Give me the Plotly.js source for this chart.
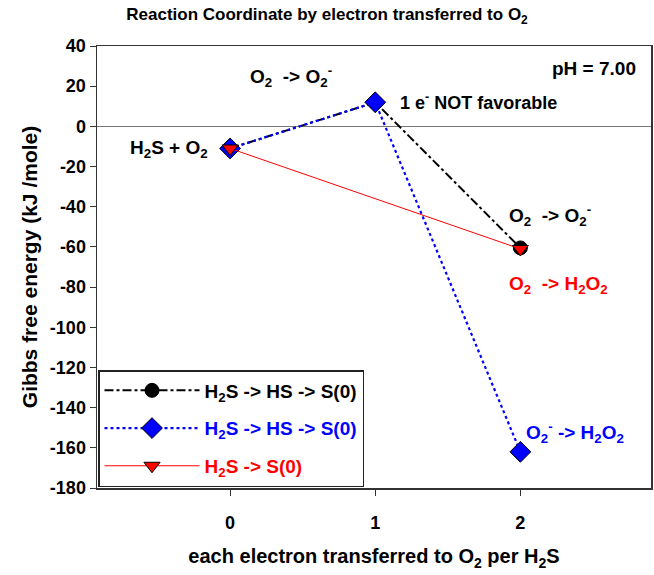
<!DOCTYPE html>
<html>
<head>
<meta charset="utf-8">
<script src="https://cdn.plot.ly/plotly-3.0.1.min.js"></script>
<style>html,body{margin:0;padding:0;background:#fff;}#chart{width:654px;height:575px;}</style>
</head>
<body>
<div id="chart"></div>
<script>
// Data
const steps = [0, 1, 2];
const blackVals = [-11, 12, -60.5];
const blueVals = [-11, 12, -162];
const redSteps = [0, 2];
const redVals = [-11, -61];
const seriesNames = [
  "<b>H<sub>2</sub>S -> HS -> S(0)</b>",
  "<b>H<sub>2</sub>S -> HS -> S(0)</b>",
  "<b>H<sub>2</sub>S -> S(0)</b>"
];
const xTicks = [0, 1, 2];
const yTicks = [-180, -160, -140, -120, -100, -80, -60, -40, -20, 0, 20, 40];

const FONT = "Liberation Sans, Arial, sans-serif";

const traces = [
  {
    x: steps, y: blackVals, name: seriesNames[0], mode: "lines+markers", legendgroup: "a",
    line: {color: "black", dash: "dashdot", width: 2},
    marker: {symbol: "circle", size: 14, color: "black", line: {color: "black", width: 1}}
  },
  {
    x: steps, y: blueVals, name: seriesNames[1], mode: "lines+markers", legendgroup: "b",
    line: {color: "#0000ff", dash: "dot", width: 2.2},
    marker: {symbol: "diamond", size: 16, color: "#0000ff", line: {color: "black", width: 1}}
  },
  {
    x: redSteps, y: redVals, name: seriesNames[2], mode: "lines+markers", legendgroup: "c",
    line: {color: "#ff0000", width: 1},
    marker: {symbol: "triangle-down", size: 14, color: "#ff0000", line: {color: "black", width: 1}}
  }
];

const ann = (x, y, text, color, size, xanchor) => ({
  xref: "paper", yref: "paper", x: x, y: y, text: "<b>" + text + "</b>",
  showarrow: false, xanchor: xanchor || "left", yanchor: "middle",
  font: {family: FONT, size: size || 19, color: color || "black"}
});

// paper coords helpers: plot area x 97..651, y 46..488
const px = v => (v - 97) / 554;
const py = v => (488 - v) / 442;

const layout = {
  width: 654, height: 575,
  margin: {l: 97, r: 3, t: 46, b: 87},
  paper_bgcolor: "white", plot_bgcolor: "white",
  font: {family: FONT, color: "black"},
  showlegend: true,
  title: {
    text: "<b>Reaction Coordinate by electron transferred to O<sub>2</sub></b>",
    x: 0.5, xanchor: "center", y: 0.975, yanchor: "middle",
    font: {family: FONT, size: 17, color: "black"}
  },
  xaxis: {
    range: [-0.917, 2.9], tickvals: xTicks, ticktext: xTicks.map(v => "<b>" + v + "</b>"),
    showgrid: false, zeroline: false, showline: true, mirror: true,
    linecolor: "#333", linewidth: 1.5, ticks: "outside", ticklen: 6, tickcolor: "#333",
    ticklabelstandoff: 12,
    tickfont: {family: FONT, size: 18, color: "black"},
    title: {text: "<b>each electron transferred to O<sub>2</sub> per H<sub>2</sub>S</b>",
            font: {family: FONT, size: 20, color: "black"}, standoff: 17}
  },
  yaxis: {
    range: [-180, 40], tickvals: yTicks, ticktext: yTicks.map(v => "<b>" + String(v) + "</b>"),
    showgrid: false, zeroline: true, zerolinecolor: "#777", zerolinewidth: 1,
    showline: true, mirror: true, linecolor: "#333", linewidth: 1.5,
    ticks: "outside", ticklen: 6, tickcolor: "#333",
    tickfont: {family: FONT, size: 18, color: "black"},
    title: {text: "<b>Gibbs free energy (kJ /mole)</b>",
            font: {family: FONT, size: 21, color: "black"}, standoff: 6}
  },
  legend: {
    x: px(98), y: py(487), xanchor: "left", yanchor: "bottom",
    bgcolor: "white", bordercolor: "#222", borderwidth: 1.5,
    font: {family: FONT, size: 19, color: "black"},
    itemwidth: 95, tracegroupgap: 10
  },
  annotations: [
    ann(px(638), py(68), "pH = 7.00", "black", 19, "right"),
    ann(px(248), py(76), "O<sub>2</sub>  -> O<sub>2</sub><sup>-</sup>", "black", 19),
    ann(px(398), py(101), "1 e<sup>-</sup> NOT favorable", "black", 18),
    ann(px(128), py(149), "H<sub>2</sub>S + O<sub>2</sub>", "black", 19),
    ann(px(507), py(216), "O<sub>2</sub>  -> O<sub>2</sub><sup>-</sup>", "black", 19),
    ann(px(507), py(285), "O<sub>2</sub>  -> H<sub>2</sub>O<sub>2</sub>", "#ff0000", 19),
    ann(px(524), py(432), "O<sub>2</sub><sup>-</sup> -> H<sub>2</sub>O<sub>2</sub>", "#0000ff", 19)
  ]
};

Plotly.newPlot("chart", traces, layout, {displayModeBar: false, staticPlot: true}).then(() => {
  const colors = ["black", "#0000ff", "#ff0000"];
  document.querySelectorAll(".legend .traces .legendtext").forEach((el, i) => {
    el.style.fill = colors[i];
  });
});
</script>
</body>
</html>
